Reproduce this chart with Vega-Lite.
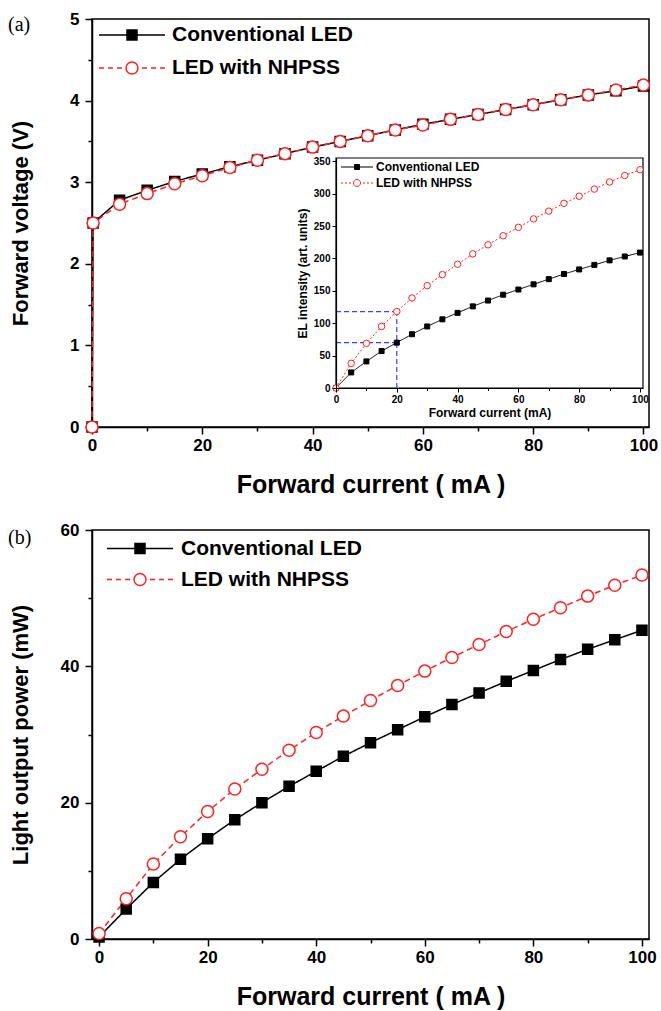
{
  "$schema": "https://vega.github.io/schema/vega-lite/v6.json",
  "padding": {"left": 7, "top": 9, "right": 0, "bottom": 2},
  "spacing": 22,
  "resolve": {"scale": {"color": "independent", "strokeDash": "independent", "shape": "independent", "fill": "independent", "stroke": "independent", "size": "independent"}},
  "config": {
    "view": {"stroke": "#000000", "strokeWidth": 1.5},
    "axis": {"domainColor": "#000000", "domainWidth": 1.5, "tickColor": "#000000", "tickWidth": 1.5, "labelColor": "#000000", "titleColor": "#000000", "labelFont": "Liberation Sans", "titleFont": "Liberation Sans", "labelFontWeight": "bold", "titleFontWeight": "bold", "grid": false, "labelFlush": false, "labelOverlap": false},
    "legend": {"padding": 0, "labelFont": "Liberation Sans", "labelFontWeight": "bold", "labelColor": "#000000", "title": null, "labelLimit": 400}
  },
  "datasets": {
    "fv": [
      {"series": "Conventional LED", "current": 0, "voltage": 0},
      {"series": "Conventional LED", "current": 0.2, "voltage": 2.5},
      {"series": "Conventional LED", "current": 5, "voltage": 2.78},
      {"series": "Conventional LED", "current": 10, "voltage": 2.9},
      {"series": "Conventional LED", "current": 15, "voltage": 3.01},
      {"series": "Conventional LED", "current": 20, "voltage": 3.1},
      {"series": "Conventional LED", "current": 25, "voltage": 3.19},
      {"series": "Conventional LED", "current": 30, "voltage": 3.27},
      {"series": "Conventional LED", "current": 35, "voltage": 3.35},
      {"series": "Conventional LED", "current": 40, "voltage": 3.43},
      {"series": "Conventional LED", "current": 45, "voltage": 3.5},
      {"series": "Conventional LED", "current": 50, "voltage": 3.57},
      {"series": "Conventional LED", "current": 55, "voltage": 3.64},
      {"series": "Conventional LED", "current": 60, "voltage": 3.71},
      {"series": "Conventional LED", "current": 65, "voltage": 3.77},
      {"series": "Conventional LED", "current": 70, "voltage": 3.83},
      {"series": "Conventional LED", "current": 75, "voltage": 3.89},
      {"series": "Conventional LED", "current": 80, "voltage": 3.95},
      {"series": "Conventional LED", "current": 85, "voltage": 4.01},
      {"series": "Conventional LED", "current": 90, "voltage": 4.07},
      {"series": "Conventional LED", "current": 95, "voltage": 4.12},
      {"series": "Conventional LED", "current": 100, "voltage": 4.18},
      {"series": "LED with NHPSS", "current": 0, "voltage": 0},
      {"series": "LED with NHPSS", "current": 0.2, "voltage": 2.5},
      {"series": "LED with NHPSS", "current": 5, "voltage": 2.73},
      {"series": "LED with NHPSS", "current": 10, "voltage": 2.86},
      {"series": "LED with NHPSS", "current": 15, "voltage": 2.98},
      {"series": "LED with NHPSS", "current": 20, "voltage": 3.08},
      {"series": "LED with NHPSS", "current": 25, "voltage": 3.18},
      {"series": "LED with NHPSS", "current": 30, "voltage": 3.27},
      {"series": "LED with NHPSS", "current": 35, "voltage": 3.35},
      {"series": "LED with NHPSS", "current": 40, "voltage": 3.43},
      {"series": "LED with NHPSS", "current": 45, "voltage": 3.5},
      {"series": "LED with NHPSS", "current": 50, "voltage": 3.57},
      {"series": "LED with NHPSS", "current": 55, "voltage": 3.64},
      {"series": "LED with NHPSS", "current": 60, "voltage": 3.7},
      {"series": "LED with NHPSS", "current": 65, "voltage": 3.77},
      {"series": "LED with NHPSS", "current": 70, "voltage": 3.83},
      {"series": "LED with NHPSS", "current": 75, "voltage": 3.89},
      {"series": "LED with NHPSS", "current": 80, "voltage": 3.95},
      {"series": "LED with NHPSS", "current": 85, "voltage": 4.01},
      {"series": "LED with NHPSS", "current": 90, "voltage": 4.07},
      {"series": "LED with NHPSS", "current": 95, "voltage": 4.13},
      {"series": "LED with NHPSS", "current": 100, "voltage": 4.19}
    ],
    "el": [
      {"series": "Conventional LED", "current": 0, "intensity": 0},
      {"series": "Conventional LED", "current": 5, "intensity": 24},
      {"series": "Conventional LED", "current": 10, "intensity": 41},
      {"series": "Conventional LED", "current": 15, "intensity": 57},
      {"series": "Conventional LED", "current": 20, "intensity": 70},
      {"series": "Conventional LED", "current": 25, "intensity": 83},
      {"series": "Conventional LED", "current": 30, "intensity": 95},
      {"series": "Conventional LED", "current": 35, "intensity": 106},
      {"series": "Conventional LED", "current": 40, "intensity": 116},
      {"series": "Conventional LED", "current": 45, "intensity": 126},
      {"series": "Conventional LED", "current": 50, "intensity": 135},
      {"series": "Conventional LED", "current": 55, "intensity": 144},
      {"series": "Conventional LED", "current": 60, "intensity": 152},
      {"series": "Conventional LED", "current": 65, "intensity": 160},
      {"series": "Conventional LED", "current": 70, "intensity": 168},
      {"series": "Conventional LED", "current": 75, "intensity": 176},
      {"series": "Conventional LED", "current": 80, "intensity": 183},
      {"series": "Conventional LED", "current": 85, "intensity": 190},
      {"series": "Conventional LED", "current": 90, "intensity": 197},
      {"series": "Conventional LED", "current": 95, "intensity": 203},
      {"series": "Conventional LED", "current": 100, "intensity": 209},
      {"series": "LED with NHPSS", "current": 0, "intensity": 0},
      {"series": "LED with NHPSS", "current": 5, "intensity": 38},
      {"series": "LED with NHPSS", "current": 10, "intensity": 69},
      {"series": "LED with NHPSS", "current": 15, "intensity": 95},
      {"series": "LED with NHPSS", "current": 20, "intensity": 118},
      {"series": "LED with NHPSS", "current": 25, "intensity": 139},
      {"series": "LED with NHPSS", "current": 30, "intensity": 158},
      {"series": "LED with NHPSS", "current": 35, "intensity": 175},
      {"series": "LED with NHPSS", "current": 40, "intensity": 191},
      {"series": "LED with NHPSS", "current": 45, "intensity": 207},
      {"series": "LED with NHPSS", "current": 50, "intensity": 221},
      {"series": "LED with NHPSS", "current": 55, "intensity": 235},
      {"series": "LED with NHPSS", "current": 60, "intensity": 248},
      {"series": "LED with NHPSS", "current": 65, "intensity": 261},
      {"series": "LED with NHPSS", "current": 70, "intensity": 273},
      {"series": "LED with NHPSS", "current": 75, "intensity": 285},
      {"series": "LED with NHPSS", "current": 80, "intensity": 296},
      {"series": "LED with NHPSS", "current": 85, "intensity": 307},
      {"series": "LED with NHPSS", "current": 90, "intensity": 318},
      {"series": "LED with NHPSS", "current": 95, "intensity": 328},
      {"series": "LED with NHPSS", "current": 100, "intensity": 337}
    ],
    "guides": [
      {"current": 0, "current2": 20, "intensity": 118, "intensity2": 118},
      {"current": 0, "current2": 20, "intensity": 70, "intensity2": 70},
      {"current": 20, "current2": 20, "intensity": 0, "intensity2": 118}
    ],
    "lop": [
      {"series": "Conventional LED", "current": 0, "power": 0.3},
      {"series": "Conventional LED", "current": 5, "power": 4.4},
      {"series": "Conventional LED", "current": 10, "power": 8.3},
      {"series": "Conventional LED", "current": 15, "power": 11.7},
      {"series": "Conventional LED", "current": 20, "power": 14.7},
      {"series": "Conventional LED", "current": 25, "power": 17.5},
      {"series": "Conventional LED", "current": 30, "power": 20},
      {"series": "Conventional LED", "current": 35, "power": 22.4},
      {"series": "Conventional LED", "current": 40, "power": 24.6},
      {"series": "Conventional LED", "current": 45, "power": 26.8},
      {"series": "Conventional LED", "current": 50, "power": 28.8},
      {"series": "Conventional LED", "current": 55, "power": 30.7},
      {"series": "Conventional LED", "current": 60, "power": 32.6},
      {"series": "Conventional LED", "current": 65, "power": 34.4},
      {"series": "Conventional LED", "current": 70, "power": 36.1},
      {"series": "Conventional LED", "current": 75, "power": 37.8},
      {"series": "Conventional LED", "current": 80, "power": 39.4},
      {"series": "Conventional LED", "current": 85, "power": 41},
      {"series": "Conventional LED", "current": 90, "power": 42.5},
      {"series": "Conventional LED", "current": 95, "power": 43.9},
      {"series": "Conventional LED", "current": 100, "power": 45.3},
      {"series": "LED with NHPSS", "current": 0, "power": 0.8},
      {"series": "LED with NHPSS", "current": 5, "power": 5.9},
      {"series": "LED with NHPSS", "current": 10, "power": 11},
      {"series": "LED with NHPSS", "current": 15, "power": 15},
      {"series": "LED with NHPSS", "current": 20, "power": 18.7},
      {"series": "LED with NHPSS", "current": 25, "power": 22},
      {"series": "LED with NHPSS", "current": 30, "power": 24.9},
      {"series": "LED with NHPSS", "current": 35, "power": 27.7},
      {"series": "LED with NHPSS", "current": 40, "power": 30.3},
      {"series": "LED with NHPSS", "current": 45, "power": 32.7},
      {"series": "LED with NHPSS", "current": 50, "power": 35},
      {"series": "LED with NHPSS", "current": 55, "power": 37.2},
      {"series": "LED with NHPSS", "current": 60, "power": 39.3},
      {"series": "LED with NHPSS", "current": 65, "power": 41.3},
      {"series": "LED with NHPSS", "current": 70, "power": 43.2},
      {"series": "LED with NHPSS", "current": 75, "power": 45.1},
      {"series": "LED with NHPSS", "current": 80, "power": 46.9},
      {"series": "LED with NHPSS", "current": 85, "power": 48.6},
      {"series": "LED with NHPSS", "current": 90, "power": 50.3},
      {"series": "LED with NHPSS", "current": 95, "power": 51.9},
      {"series": "LED with NHPSS", "current": 100, "power": 53.4}
    ]
  },
  "vconcat": [
    {
      "width": 557,
      "height": 408,
      "layer": [
        {
          "data": {"name": "fv"},
          "layer": [
            {
              "mark": {"type": "line", "strokeWidth": 1.5},
              "encoding": {
                "x": {"field": "current", "type": "quantitative", "scale": {"domain": [0, 101], "nice": false, "zero": false},
                  "axis": {"orient": "bottom", "values": [0, 10, 20, 30, 40, 50, 60, 70, 80, 90, 100], "labelExpr": "datum.value % 20 === 0 ? datum.label : ''", "tickSize": {"condition": {"test": "datum.value % 20 === 0", "value": 7}, "value": 4}, "labelFontSize": 17, "labelPadding": 3, "title": "Forward current ( mA )", "titleFontSize": 25, "titlePadding": 19}},
                "y": {"field": "voltage", "type": "quantitative", "scale": {"domain": [0, 5], "nice": false},
                  "axis": {"orient": "left", "values": [0, 0.5, 1, 1.5, 2, 2.5, 3, 3.5, 4, 4.5, 5], "labelExpr": "datum.value % 1 === 0 ? '' + datum.value : ''", "tickSize": {"condition": {"test": "datum.value % 1 === 0", "value": 7}, "value": 4}, "labelFontSize": 17, "labelPadding": 6, "title": "Forward voltage (V)", "titleFontSize": 22, "titlePadding": 37}},
                "color": {"field": "series", "type": "nominal", "scale": {"domain": ["Conventional LED", "LED with NHPSS"], "range": ["#000000", "#ff2020"]}, "legend": null},
                "strokeDash": {"field": "series", "type": "nominal", "scale": {"domain": ["Conventional LED", "LED with NHPSS"], "range": [[1, 0], [6, 4]]}, "legend": null}
              }
            },
            {
              "mark": {"type": "point", "strokeWidth": 1.5, "opacity": 1},
              "encoding": {
                "x": {"field": "current", "type": "quantitative"},
                "y": {"field": "voltage", "type": "quantitative"},
                "shape": {"field": "series", "type": "nominal", "scale": {"domain": ["Conventional LED", "LED with NHPSS"], "range": ["square", "circle"]}, "legend": null},
                "fill": {"field": "series", "type": "nominal", "scale": {"domain": ["Conventional LED", "LED with NHPSS"], "range": ["#000000", "#ffffff"]}, "legend": null},
                "stroke": {"field": "series", "type": "nominal", "scale": {"domain": ["Conventional LED", "LED with NHPSS"], "range": ["#000000", "#ff2020"]}, "legend": null},
                "size": {"field": "series", "type": "nominal", "scale": {"domain": ["Conventional LED", "LED with NHPSS"], "range": [100, 144]}, "legend": null}
              }
            },
            {
              "transform": [{"filter": "datum.current < 0"}],
              "mark": {"type": "point", "strokeWidth": 1.5, "opacity": 1},
              "encoding": {
                "x": {"field": "current", "type": "quantitative"},
                "y": {"field": "voltage", "type": "quantitative"},
                "shape": {"field": "series", "type": "nominal", "scale": {"domain": ["Conventional LED", "LED with NHPSS"], "range": ["M-6.6,0H6.6M-1,-1H1V1H-1Z", "M-6.6,0H-5.6M-4.8,0H-3.8M-3,0H-2M2,0H3M3.8,0H4.8M5.6,0H6.6M1.2,0A1.2,1.2,0,1,1,-1.2,0A1.2,1.2,0,1,1,1.2,0Z"]},
                  "legend": {"orient": "none", "legendX": -84, "legendY": 5.5, "title": "(a)", "titleOrient": "left", "titleAnchor": "start", "titleFont": "Liberation Serif", "titleFontSize": 20, "titleFontWeight": "normal", "titleColor": "#000000", "titleBaseline": "middle", "titlePadding": 62, "symbolSize": 100, "symbolStrokeWidth": 1.5, "symbolOffset": 28.5, "labelOffset": 29.5, "labelFontSize": 21, "rowPadding": 11}},
                "fill": {"field": "series", "type": "nominal", "scale": {"domain": ["Conventional LED", "LED with NHPSS"], "range": ["#000000", "#ffffff"]},
                  "legend": {"orient": "none", "legendX": -84, "legendY": 5.5, "title": "(a)", "titleOrient": "left", "titleAnchor": "start", "titleFont": "Liberation Serif", "titleFontSize": 20, "titleFontWeight": "normal", "titleColor": "#000000", "titleBaseline": "middle", "titlePadding": 62, "symbolSize": 100, "symbolStrokeWidth": 1.5, "symbolOffset": 28.5, "labelOffset": 29.5, "labelFontSize": 21, "rowPadding": 11}},
                "stroke": {"field": "series", "type": "nominal", "scale": {"domain": ["Conventional LED", "LED with NHPSS"], "range": ["#000000", "#ff2020"]},
                  "legend": {"orient": "none", "legendX": -84, "legendY": 5.5, "title": "(a)", "titleOrient": "left", "titleAnchor": "start", "titleFont": "Liberation Serif", "titleFontSize": 20, "titleFontWeight": "normal", "titleColor": "#000000", "titleBaseline": "middle", "titlePadding": 62, "symbolSize": 100, "symbolStrokeWidth": 1.5, "symbolOffset": 28.5, "labelOffset": 29.5, "labelFontSize": 21, "rowPadding": 11}}
              }
            }
          ],
          "resolve": {"scale": {"shape": "independent", "fill": "independent", "stroke": "independent"}}
        },
        {
          "layer": [
            {
              "data": {"values": [{}]},
              "mark": {"type": "rect", "fill": "#ffffff", "stroke": "#000000", "strokeWidth": 1.2},
              "encoding": {
                "x": {"datum": 0, "type": "quantitative", "scale": {"domain": [0, 101], "range": [244, 551], "nice": false, "zero": false},
                  "axis": {"orient": "bottom", "offset": -39, "zindex": 1, "domainWidth": 1.2, "tickWidth": 1, "values": [0, 10, 20, 30, 40, 50, 60, 70, 80, 90, 100], "labelExpr": "datum.value % 20 === 0 ? datum.label : ''", "tickSize": {"condition": {"test": "datum.value % 20 === 0", "value": 4}, "value": 2.5}, "labelFontSize": 10, "labelPadding": 2, "title": "Forward current (mA)", "titleFontSize": 12, "titlePadding": 3}},
                "x2": {"datum": 101},
                "y": {"datum": 0, "type": "quantitative", "scale": {"domain": [0, 355], "range": [369, 139], "nice": false},
                  "axis": {"orient": "left", "offset": -244, "zindex": 1, "domainWidth": 1.2, "tickWidth": 1, "values": [0, 25, 50, 75, 100, 125, 150, 175, 200, 225, 250, 275, 300, 325, 350], "labelExpr": "datum.value % 50 === 0 ? datum.label : ''", "tickSize": {"condition": {"test": "datum.value % 50 === 0", "value": 4}, "value": 2.5}, "labelFontSize": 10, "labelPadding": 2, "title": "EL intensity (art. units)", "titleFontSize": 12, "titlePadding": 4}},
                "y2": {"datum": 355}
              }
            },
            {
              "data": {"name": "guides"},
              "mark": {"type": "rule", "color": "#3344ff", "strokeWidth": 1.2, "strokeDash": [5, 3]},
              "encoding": {
                "x": {"field": "current", "type": "quantitative"},
                "x2": {"field": "current2"},
                "y": {"field": "intensity", "type": "quantitative"},
                "y2": {"field": "intensity2"}
              }
            },
            {
              "data": {"name": "el"},
              "mark": {"type": "line", "strokeWidth": 1},
              "encoding": {
                "x": {"field": "current", "type": "quantitative"},
                "y": {"field": "intensity", "type": "quantitative"},
                "color": {"field": "series", "type": "nominal", "scale": {"domain": ["Conventional LED", "LED with NHPSS"], "range": ["#000000", "#ff2020"]}, "legend": null},
                "strokeDash": {"field": "series", "type": "nominal", "scale": {"domain": ["Conventional LED", "LED with NHPSS"], "range": [[1, 0], [2, 2]]}, "legend": null}
              }
            },
            {
              "data": {"name": "el"},
              "mark": {"type": "point", "strokeWidth": 1, "opacity": 1},
              "encoding": {
                "x": {"field": "current", "type": "quantitative"},
                "y": {"field": "intensity", "type": "quantitative"},
                "shape": {"field": "series", "type": "nominal", "scale": {"domain": ["Conventional LED", "LED with NHPSS"], "range": ["square", "circle"]}, "legend": null},
                "fill": {"field": "series", "type": "nominal", "scale": {"domain": ["Conventional LED", "LED with NHPSS"], "range": ["#000000", "#ffffff"]}, "legend": null},
                "stroke": {"field": "series", "type": "nominal", "scale": {"domain": ["Conventional LED", "LED with NHPSS"], "range": ["#000000", "#ff2020"]}, "legend": null},
                "size": {"field": "series", "type": "nominal", "scale": {"domain": ["Conventional LED", "LED with NHPSS"], "range": [25, 42]}, "legend": null}
              }
            },
            {
              "data": {"name": "el"},
              "transform": [{"filter": "datum.current < 0"}],
              "mark": {"type": "point", "strokeWidth": 1, "opacity": 1},
              "encoding": {
                "x": {"field": "current", "type": "quantitative"},
                "y": {"field": "intensity", "type": "quantitative"},
                "shape": {"field": "series", "type": "nominal", "scale": {"domain": ["Conventional LED", "LED with NHPSS"], "range": ["M-6.4,0H6.4M-1,-1H1V1H-1Z", "M-6.4,0H-5.6M-4.8,0H-4M-3.2,0H-2.4M2.4,0H3.2M4,0H4.8M5.6,0H6.4M1.4,0A1.4,1.4,0,1,1,-1.4,0A1.4,1.4,0,1,1,1.4,0Z"]},
                  "legend": {"orient": "none", "legendX": 244, "legendY": 142, "symbolSize": 25, "symbolStrokeWidth": 1, "symbolOffset": 15, "labelOffset": 13, "labelFontSize": 12, "rowPadding": 4}},
                "fill": {"field": "series", "type": "nominal", "scale": {"domain": ["Conventional LED", "LED with NHPSS"], "range": ["#000000", "#ffffff"]},
                  "legend": {"orient": "none", "legendX": 244, "legendY": 142, "symbolSize": 25, "symbolStrokeWidth": 1, "symbolOffset": 15, "labelOffset": 13, "labelFontSize": 12, "rowPadding": 4}},
                "stroke": {"field": "series", "type": "nominal", "scale": {"domain": ["Conventional LED", "LED with NHPSS"], "range": ["#000000", "#ff2020"]},
                  "legend": {"orient": "none", "legendX": 244, "legendY": 142, "symbolSize": 25, "symbolStrokeWidth": 1, "symbolOffset": 15, "labelOffset": 13, "labelFontSize": 12, "rowPadding": 4}}
              }
            }
          ],
          "resolve": {"scale": {"shape": "independent", "fill": "independent", "stroke": "independent"}}
        }
      ],
      "resolve": {"scale": {"x": "independent", "y": "independent", "color": "independent", "strokeDash": "independent", "shape": "independent", "fill": "independent", "stroke": "independent", "size": "independent"}}
    },
    {
      "width": 557,
      "height": 409,
      "data": {"name": "lop"},
      "layer": [
        {
          "mark": {"type": "line", "strokeWidth": 1.5},
          "encoding": {
            "x": {"field": "current", "type": "quantitative", "scale": {"domain": [-1.3, 101.3], "nice": false, "zero": false},
              "axis": {"orient": "bottom", "values": [0, 10, 20, 30, 40, 50, 60, 70, 80, 90, 100], "labelExpr": "datum.value % 20 === 0 ? datum.label : ''", "tickSize": {"condition": {"test": "datum.value % 20 === 0", "value": 7}, "value": 4}, "labelFontSize": 17, "labelPadding": 3, "title": "Forward current ( mA )", "titleFontSize": 25, "titlePadding": 19}},
            "y": {"field": "power", "type": "quantitative", "scale": {"domain": [0, 60], "nice": false},
              "axis": {"orient": "left", "values": [0, 10, 20, 30, 40, 50, 60], "labelExpr": "datum.value % 20 === 0 ? datum.label : ''", "tickSize": {"condition": {"test": "datum.value % 20 === 0", "value": 7}, "value": 4}, "labelFontSize": 17, "labelPadding": 6, "title": "Light output power (mW)", "titleFontSize": 22, "titlePadding": 28}},
            "color": {"field": "series", "type": "nominal", "scale": {"domain": ["Conventional LED", "LED with NHPSS"], "range": ["#000000", "#ff2020"]}, "legend": null},
            "strokeDash": {"field": "series", "type": "nominal", "scale": {"domain": ["Conventional LED", "LED with NHPSS"], "range": [[1, 0], [6, 4]]}, "legend": null}
          }
        },
        {
          "mark": {"type": "point", "strokeWidth": 1.5, "opacity": 1},
          "encoding": {
            "x": {"field": "current", "type": "quantitative"},
            "y": {"field": "power", "type": "quantitative"},
            "shape": {"field": "series", "type": "nominal", "scale": {"domain": ["Conventional LED", "LED with NHPSS"], "range": ["square", "circle"]}, "legend": null},
            "fill": {"field": "series", "type": "nominal", "scale": {"domain": ["Conventional LED", "LED with NHPSS"], "range": ["#000000", "#ffffff"]}, "legend": null},
            "stroke": {"field": "series", "type": "nominal", "scale": {"domain": ["Conventional LED", "LED with NHPSS"], "range": ["#000000", "#ff2020"]}, "legend": null},
            "size": {"field": "series", "type": "nominal", "scale": {"domain": ["Conventional LED", "LED with NHPSS"], "range": [100, 144]}, "legend": null}
          }
        },
        {
          "transform": [{"filter": "datum.current < 0"}],
          "mark": {"type": "point", "strokeWidth": 1.5, "opacity": 1},
          "encoding": {
            "x": {"field": "current", "type": "quantitative"},
            "y": {"field": "power", "type": "quantitative"},
            "shape": {"field": "series", "type": "nominal", "scale": {"domain": ["Conventional LED", "LED with NHPSS"], "range": ["M-6.6,0H6.6M-1,-1H1V1H-1Z", "M-6.6,0H-5.6M-4.8,0H-3.8M-3,0H-2M2,0H3M3.8,0H4.8M5.6,0H6.6M1.2,0A1.2,1.2,0,1,1,-1.2,0A1.2,1.2,0,1,1,1.2,0Z"]},
              "legend": {"orient": "none", "legendX": -84, "legendY": 8, "title": "(b)", "titleOrient": "left", "titleAnchor": "start", "titleFont": "Liberation Serif", "titleFontSize": 20, "titleFontWeight": "normal", "titleColor": "#000000", "titleBaseline": "middle", "titlePadding": 62, "symbolSize": 100, "symbolStrokeWidth": 1.5, "symbolOffset": 35.5, "labelOffset": 30.5, "labelFontSize": 21, "rowPadding": 9}},
            "fill": {"field": "series", "type": "nominal", "scale": {"domain": ["Conventional LED", "LED with NHPSS"], "range": ["#000000", "#ffffff"]},
              "legend": {"orient": "none", "legendX": -84, "legendY": 8, "title": "(b)", "titleOrient": "left", "titleAnchor": "start", "titleFont": "Liberation Serif", "titleFontSize": 20, "titleFontWeight": "normal", "titleColor": "#000000", "titleBaseline": "middle", "titlePadding": 62, "symbolSize": 100, "symbolStrokeWidth": 1.5, "symbolOffset": 35.5, "labelOffset": 30.5, "labelFontSize": 21, "rowPadding": 9}},
            "stroke": {"field": "series", "type": "nominal", "scale": {"domain": ["Conventional LED", "LED with NHPSS"], "range": ["#000000", "#ff2020"]},
              "legend": {"orient": "none", "legendX": -84, "legendY": 8, "title": "(b)", "titleOrient": "left", "titleAnchor": "start", "titleFont": "Liberation Serif", "titleFontSize": 20, "titleFontWeight": "normal", "titleColor": "#000000", "titleBaseline": "middle", "titlePadding": 62, "symbolSize": 100, "symbolStrokeWidth": 1.5, "symbolOffset": 35.5, "labelOffset": 30.5, "labelFontSize": 21, "rowPadding": 9}}
          }
        }
      ],
      "resolve": {"scale": {"shape": "independent", "fill": "independent", "stroke": "independent"}}
    }
  ]
}
